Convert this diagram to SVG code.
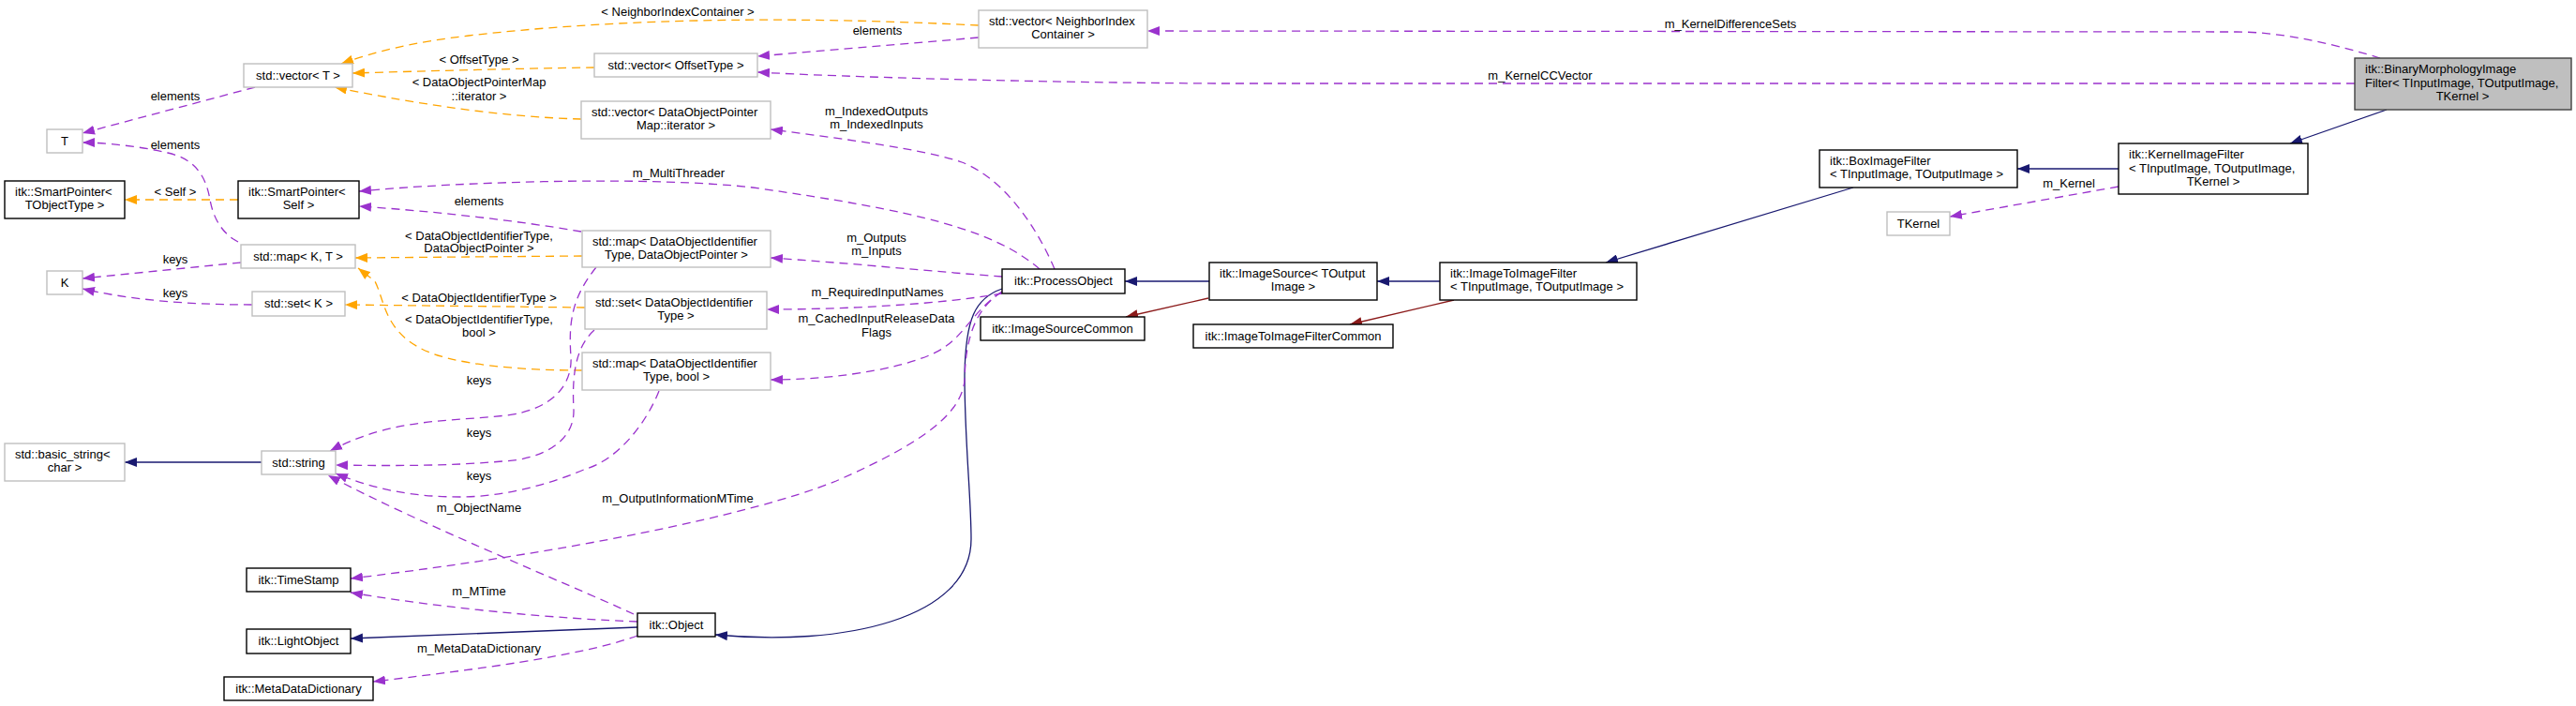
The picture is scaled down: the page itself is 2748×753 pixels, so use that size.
<svg xmlns="http://www.w3.org/2000/svg" width="2748" height="753" viewBox="0 0 2748 753">
<style>
text{font-family:"Liberation Sans",Arial,sans-serif;font-size:13px;fill:#000}
.c{text-anchor:middle}
.n rect{fill:#fff;stroke-width:1.4}
.b rect{stroke:#000}
.g rect{stroke:#bfbfbf}
.m rect{fill:#bfbfbf;stroke:#404040}
.e path{fill:none;stroke-width:1.3}
.u{stroke:#9a32cd;stroke-dasharray:9,6;marker-end:url(#ap)}
.t{stroke:#ffa500;stroke-dasharray:9,6;marker-end:url(#ao)}
.i{stroke:#191970;marker-end:url(#ab)}
.p{stroke:#8b1a1a;marker-end:url(#ar)}
</style>
<defs>
<marker id="ap" viewBox="0 0 13 10" refX="13" refY="5" markerWidth="13" markerHeight="10" markerUnits="userSpaceOnUse" orient="auto"><path d="M0,0L13,5L0,10z" fill="#9a32cd"/></marker>
<marker id="ao" viewBox="0 0 13 10" refX="13" refY="5" markerWidth="13" markerHeight="10" markerUnits="userSpaceOnUse" orient="auto"><path d="M0,0L13,5L0,10z" fill="#ffa500"/></marker>
<marker id="ab" viewBox="0 0 13 10" refX="13" refY="5" markerWidth="13" markerHeight="10" markerUnits="userSpaceOnUse" orient="auto"><path d="M0,0L13,5L0,10z" fill="#191970"/></marker>
<marker id="ar" viewBox="0 0 13 10" refX="13" refY="5" markerWidth="13" markerHeight="10" markerUnits="userSpaceOnUse" orient="auto"><path d="M0,0L13,5L0,10z" fill="#8b1a1a"/></marker>
</defs>
<rect width="2748" height="753" fill="#fff"/>
<g id="edges" class="e">
<path class="i" d="M2546,117L2443,153"/>
<path class="i" d="M2260,180L2152,180"/>
<path class="u" d="M2260,199L2080,231"/>
<path class="i" d="M1977,200L1713,280"/>
<path class="i" d="M1536,300L1469,300"/>
<path class="p" d="M1551,320L1440,346"/>
<path class="i" d="M1290,300L1200,300"/>
<path class="p" d="M1289,318L1201,338"/>
<path class="i" d="M1069,308C1040,318 1030,340 1029,400C1029,470 1036,530 1036,575C1036,660 900,690 763,677"/>
<path class="i" d="M680,669L374,681"/>
<path class="i" d="M279,493L133,493"/>
<path class="u" d="M680,678C620,700 500,715 398,727"/>
<path class="u" d="M680,663C600,660 480,650 374,632"/>
<path class="u" d="M676,655C600,620 450,560 350,507"/>
<path class="u" d="M1069,311C1040,330 1030,360 1029,406C1025,440 990,470 892,513C800,550 600,590 374,617"/>
<path class="u" d="M1069,311C1040,330 1030,355 1008,370C980,390 900,405 822,405"/>
<path class="u" d="M1069,313C1000,325 900,330 818,330"/>
<path class="u" d="M1069,295C1000,290 900,280 822,275"/>
<path class="u" d="M1125,287C1105,240 1070,190 1026,173C990,160 900,148 822,138"/>
<path class="u" d="M1109,287C1060,245 980,225 803,200C700,188 500,193 383,204"/>
<path class="u" d="M620,247C550,235 460,225 383,220"/>
<path class="t" d="M621,273L379,275"/>
<path class="t" d="M624,328L368,325"/>
<path class="t" d="M621,395C560,395 480,390 446,370C410,350 410,320 400,300L382,286"/>
<path class="u" d="M254,258C235,248 227,230 224,213C220,190 210,170 179,163C150,156 110,152 88,152"/>
<path class="u" d="M272,93L88,142"/>
<path class="t" d="M254,213L133,213"/>
<path class="u" d="M257,280L88,297"/>
<path class="u" d="M269,325C200,325 140,320 88,308"/>
<path class="t" d="M634,72C550,73 450,76 376,78"/>
<path class="t" d="M1044,27C900,20 700,15 500,38C440,45 400,55 364,68"/>
<path class="t" d="M620,127C540,125 450,112 357,93"/>
<path class="u" d="M1044,40L808,60"/>
<path class="u" d="M2539,62C2500,50 2440,34 2386,34L1224,33"/>
<path class="u" d="M2512,89L1300,89C1100,88 900,82 808,77"/>
<path class="u" d="M636,285C612,315 606,340 609,380C611,410 590,437 540,443C480,450 420,445 352,481"/>
<path class="u" d="M634,352C614,370 610,400 612,437C613,470 580,490 536,492C480,497 420,497 358,496"/>
<path class="u" d="M703,417C690,450 660,490 625,500C590,515 540,530 491,530C440,530 400,522 358,505"/>
</g>
<g id="labels">
<text class="c" x="1846" y="30">m_KernelDifferenceSets</text>
<text class="c" x="1643" y="85">m_KernelCCVector</text>
<text class="c" x="2207" y="200">m_Kernel</text>
<text class="c" x="723" y="17">&lt; NeighborIndexContainer &gt;</text>
<text class="c" x="936" y="37">elements</text>
<text class="c" x="511" y="68">&lt; OffsetType &gt;</text>
<text class="c" x="511" y="92">&lt; DataObjectPointerMap</text>
<text class="c" x="511" y="107">::iterator &gt;</text>
<text class="c" x="187" y="107">elements</text>
<text class="c" x="187" y="159">elements</text>
<text class="c" x="187" y="209">&lt; Self &gt;</text>
<text class="c" x="935" y="123">m_IndexedOutputs</text>
<text class="c" x="935" y="137">m_IndexedInputs</text>
<text class="c" x="724" y="189">m_MultiThreader</text>
<text class="c" x="511" y="219">elements</text>
<text class="c" x="511" y="256">&lt; DataObjectIdentifierType,</text>
<text class="c" x="511" y="269">DataObjectPointer &gt;</text>
<text class="c" x="935" y="258">m_Outputs</text>
<text class="c" x="935" y="272">m_Inputs</text>
<text class="c" x="187" y="281">keys</text>
<text class="c" x="187" y="317">keys</text>
<text class="c" x="511" y="322">&lt; DataObjectIdentifierType &gt;</text>
<text class="c" x="936" y="316">m_RequiredInputNames</text>
<text class="c" x="511" y="345">&lt; DataObjectIdentifierType,</text>
<text class="c" x="511" y="359">bool &gt;</text>
<text class="c" x="935" y="344">m_CachedInputReleaseData</text>
<text class="c" x="935" y="359">Flags</text>
<text class="c" x="511" y="410">keys</text>
<text class="c" x="511" y="466">keys</text>
<text class="c" x="511" y="512">keys</text>
<text class="c" x="723" y="536">m_OutputInformationMTime</text>
<text class="c" x="511" y="546">m_ObjectName</text>
<text class="c" x="511" y="635">m_MTime</text>
<text class="c" x="511" y="696">m_MetaDataDictionary</text>
</g>
<g id="n1" class="n m"><rect x="2512" y="62" width="231" height="55"/><text x="2523" y="78">itk::BinaryMorphologyImage</text><text x="2523" y="93">Filter&lt; TInputImage, TOutputImage,</text><text class="c" x="2627" y="107">TKernel &gt;</text></g>
<g id="n2" class="n b"><rect x="2260" y="153" width="202" height="54"/><text x="2271" y="169">itk::KernelImageFilter</text><text x="2271" y="184">&lt; TInputImage, TOutputImage,</text><text class="c" x="2361" y="198">TKernel &gt;</text></g>
<g id="n3" class="n b"><rect x="1941" y="160" width="211" height="40"/><text x="1952" y="176">itk::BoxImageFilter</text><text x="1952" y="190">&lt; TInputImage, TOutputImage &gt;</text></g>
<g id="n4" class="n g"><rect x="2013" y="226" width="67" height="25"/><text class="c" x="2046.5" y="243">TKernel</text></g>
<g id="n5" class="n b"><rect x="1536" y="280" width="210" height="40"/><text x="1547" y="296">itk::ImageToImageFilter</text><text x="1547" y="310">&lt; TInputImage, TOutputImage &gt;</text></g>
<g id="n6" class="n b"><rect x="1290" y="280" width="179" height="40"/><text x="1301" y="296">itk::ImageSource&lt; TOutput</text><text class="c" x="1379.5" y="310">Image &gt;</text></g>
<g id="n7" class="n b"><rect x="1273" y="346" width="213" height="25"/><text class="c" x="1379.5" y="363">itk::ImageToImageFilterCommon</text></g>
<g id="n8" class="n b"><rect x="1069" y="287" width="131" height="26"/><text class="c" x="1134.5" y="304">itk::ProcessObject</text></g>
<g id="n9" class="n b"><rect x="1046" y="338" width="175" height="25"/><text class="c" x="1133.5" y="355">itk::ImageSourceCommon</text></g>
<g id="n10" class="n g"><rect x="1044" y="11" width="180" height="40"/><text x="1055" y="27">std::vector&lt; NeighborIndex</text><text class="c" x="1134" y="41">Container &gt;</text></g>
<g id="n11" class="n g"><rect x="634" y="57" width="174" height="25"/><text class="c" x="721" y="74">std::vector&lt; OffsetType &gt;</text></g>
<g id="n12" class="n g"><rect x="620" y="108" width="202" height="40"/><text x="631" y="124">std::vector&lt; DataObjectPointer</text><text class="c" x="721" y="138">Map::iterator &gt;</text></g>
<g id="n13" class="n g"><rect x="621" y="246" width="201" height="39"/><text x="632" y="262">std::map&lt; DataObjectIdentifier</text><text class="c" x="721.5" y="276">Type, DataObjectPointer &gt;</text></g>
<g id="n14" class="n g"><rect x="624" y="311" width="194" height="40"/><text x="635" y="327">std::set&lt; DataObjectIdentifier</text><text class="c" x="721" y="341">Type &gt;</text></g>
<g id="n15" class="n g"><rect x="621" y="376" width="201" height="40"/><text x="632" y="392">std::map&lt; DataObjectIdentifier</text><text class="c" x="721.5" y="406">Type, bool &gt;</text></g>
<g id="n16" class="n g"><rect x="260" y="68" width="116" height="25"/><text class="c" x="318" y="85">std::vector&lt; T &gt;</text></g>
<g id="n17" class="n g"><rect x="50" y="138" width="38" height="25"/><text class="c" x="69" y="155">T</text></g>
<g id="n18" class="n b"><rect x="5" y="193" width="128" height="40"/><text x="16" y="209">itk::SmartPointer&lt;</text><text class="c" x="69" y="223">TObjectType &gt;</text></g>
<g id="n19" class="n b"><rect x="254" y="193" width="129" height="40"/><text x="265" y="209">itk::SmartPointer&lt;</text><text class="c" x="318.5" y="223">Self &gt;</text></g>
<g id="n20" class="n g"><rect x="257" y="261" width="122" height="25"/><text class="c" x="318" y="278">std::map&lt; K, T &gt;</text></g>
<g id="n21" class="n g"><rect x="50" y="289" width="38" height="25"/><text class="c" x="69" y="306">K</text></g>
<g id="n22" class="n g"><rect x="269" y="311" width="99" height="26"/><text class="c" x="318.5" y="328">std::set&lt; K &gt;</text></g>
<g id="n23" class="n g"><rect x="5" y="473" width="128" height="40"/><text x="16" y="489">std::basic_string&lt;</text><text class="c" x="69" y="503">char &gt;</text></g>
<g id="n24" class="n g"><rect x="279" y="481" width="79" height="25"/><text class="c" x="318.5" y="498">std::string</text></g>
<g id="n25" class="n b"><rect x="263" y="606" width="111" height="25"/><text class="c" x="318.5" y="623">itk::TimeStamp</text></g>
<g id="n26" class="n b"><rect x="263" y="671" width="111" height="26"/><text class="c" x="318.5" y="688">itk::LightObject</text></g>
<g id="n27" class="n b"><rect x="239" y="722" width="159" height="25"/><text class="c" x="318.5" y="739">itk::MetaDataDictionary</text></g>
<g id="n28" class="n b"><rect x="680" y="654" width="83" height="25"/><text class="c" x="721.5" y="671">itk::Object</text></g>
</svg>
